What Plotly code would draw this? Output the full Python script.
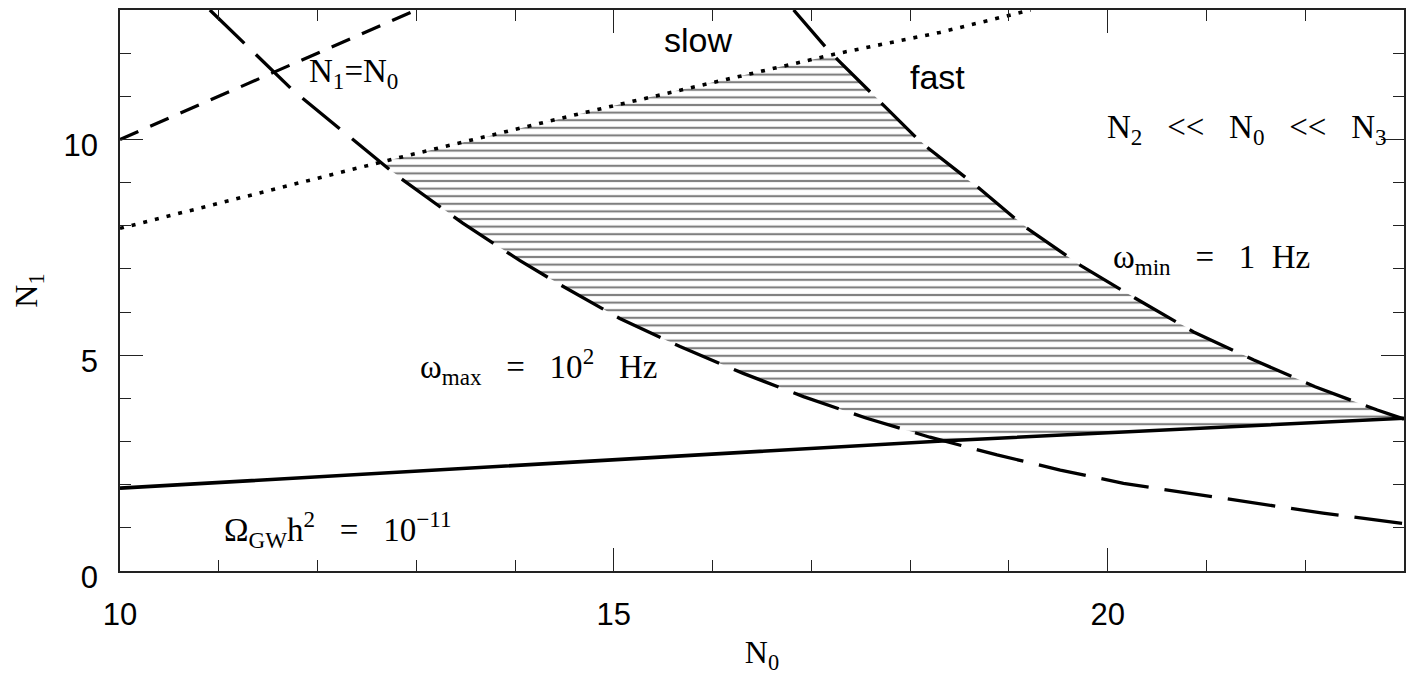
import numpy as np
import plotly.graph_objects as go

# ---- data (N0 on x, N1 on y) ----
eq_x = [10.0, 13.0]                      # N1 = N0 line
eq_y = [10.0, 13.0]

slowfast_x = [10.0, 12.72, 14.66, 16.01, 17.26, 18.30, 19.22]   # dotted boundary
slowfast_y = [7.94, 9.52, 10.60, 11.33, 11.99, 12.48, 13.0]

wmax_x = [10.91, 11.75, 12.80, 13.47, 14.05, 14.46, 15.06, 15.67, 16.31, 16.92,
          17.56, 18.20, 18.88, 19.52, 20.16, 21.24, 22.18, 23.0]   # omega_max = 1e2 Hz
wmax_y = [13.0, 11.14, 9.17, 8.06, 7.19, 6.63, 5.85, 5.20, 4.58, 4.04,
          3.54, 3.10, 2.69, 2.34, 2.03, 1.66, 1.34, 1.10]

wmin_x = [16.82, 17.16, 17.27, 17.63, 17.75, 18.12, 18.64, 19.16, 19.72, 19.85,
          20.28, 20.87, 21.48, 22.10, 22.73, 23.0]                 # omega_min = 1 Hz
wmin_y = [13.0, 12.10, 11.84, 11.03, 10.76, 9.91, 8.98, 7.98, 7.09, 6.91,
          6.32, 5.54, 4.89, 4.27, 3.73, 3.52]

gw_x = [10.0, 13.44, 18.37, 23.0]        # Omega_GW h^2 = 1e-11
gw_y = [1.92, 2.37, 3.02, 3.54]

x_ticks = [10, 15, 20]
y_ticks = [0, 5, 10]

# ---- hatched allowed region: between the four curves ----
grid = np.linspace(10, 23, 2601)
upper = np.minimum(np.interp(grid, slowfast_x, slowfast_y, right=np.inf),
                   np.interp(grid, wmin_x, wmin_y, left=np.inf, right=-np.inf))
lower = np.maximum(np.interp(grid, wmax_x, wmax_y, left=np.inf),
                   np.interp(grid, gw_x, gw_y))
ok = upper > lower
hx = np.concatenate([grid[ok], grid[ok][::-1]])
hy = np.concatenate([upper[ok], lower[ok][::-1]])

fig = go.Figure()
fig.add_trace(go.Scatter(x=hx, y=hy, mode="lines", fill="toself",
                         line=dict(width=0, color="black"),
                         fillcolor="rgba(0,0,0,0)",
                         fillpattern=dict(shape="-", size=7.6, solidity=0.28,
                                          fgcolor="black", bgcolor="rgba(255,255,255,0)"),
                         hoverinfo="skip", showlegend=False))

fig.add_trace(go.Scatter(x=eq_x, y=eq_y, mode="lines",
                         line=dict(color="black", width=3.2, dash="20px,13px"), showlegend=False))
fig.add_trace(go.Scatter(x=slowfast_x, y=slowfast_y, mode="lines",
                         line=dict(color="black", width=3.6, dash="4px,8px"), showlegend=False))
fig.add_trace(go.Scatter(x=wmax_x, y=wmax_y, mode="lines",
                         line=dict(color="black", width=3.3, dash="48px,16px"), showlegend=False))
fig.add_trace(go.Scatter(x=wmin_x, y=wmin_y, mode="lines",
                         line=dict(color="black", width=3.3, dash="48px,16px"), showlegend=False))
fig.add_trace(go.Scatter(x=gw_x, y=gw_y, mode="lines",
                         line=dict(color="black", width=3.6), showlegend=False))

serif = "Liberation Serif"
sans = "Liberation Sans"
sp = "&nbsp;"

def ann(x, y, text, family, size):
    fig.add_annotation(x=x, y=y, xref="x", yref="y", text=text, showarrow=False,
                       font=dict(family=family, size=size, color="black"),
                       xanchor="center", yanchor="middle")

ann(15.85, 12.30, "slow", sans, 34)
ann(18.28, 11.44, "fast", sans, 34)
ann(12.36, 11.53, "N<sub>1</sub>=N<sub>0</sub>", serif, 33)
ann(21.41, 10.24, "N<sub>2</sub>" + sp*3 + "&lt;&lt;" + sp*3 + "N<sub>0</sub>" + sp*3 + "&lt;&lt;" + sp*3 + "N<sub>3</sub>", serif, 33)
ann(21.05, 7.22, "ω<sub>min</sub>" + sp*3 + "=" + sp*3 + "1" + sp*2 + "Hz", serif, 33)
ann(14.24, 4.74, "ω<sub>max</sub>" + sp*3 + "=" + sp*3 + "10<sup>2</sup>" + sp*3 + "Hz", serif, 33)
ann(12.20, 0.97, "Ω<sub>GW</sub>h<sup>2</sup>" + sp*3 + "=" + sp*3 + "10<sup>−11</sup>", serif, 33)

axis_common = dict(showline=True, linecolor="#222", linewidth=1.5, mirror="allticks",
                   ticks="inside", ticklen=23, tickwidth=1.3, tickcolor="#222",
                   showgrid=False, zeroline=False, automargin=False,
                   tickfont=dict(family=sans, size=31, color="black"),
                   minor=dict(ticks="inside", ticklen=11, tickwidth=1.3, tickcolor="#222",
                              dtick=1, showgrid=False))

fig.update_xaxes(range=[10, 23], tickmode="array", tickvals=x_ticks,
                 ticktext=[str(v) for v in x_ticks],
                 title=dict(text="N<sub>0</sub>", font=dict(family=serif, size=32, color="black"),
                            standoff=10),
                 ticklabelstandoff=15, **axis_common)
fig.update_yaxes(range=[0, 13], tickmode="array", tickvals=y_ticks,
                 ticktext=[str(v) for v in y_ticks],
                 title=dict(text="N<sub>1</sub>", font=dict(family=serif, size=32, color="black"),
                            standoff=30),
                 ticklabelstandoff=14, ticklabelshift=6, **axis_common)

# page body adds an 8px offset, so the figure is sized to the remaining window
fig.update_layout(width=1408, height=674, paper_bgcolor="white", plot_bgcolor="white",
                  margin=dict(l=112, r=12, t=2, b=111), showlegend=False)

fig.write_html("out.html")
